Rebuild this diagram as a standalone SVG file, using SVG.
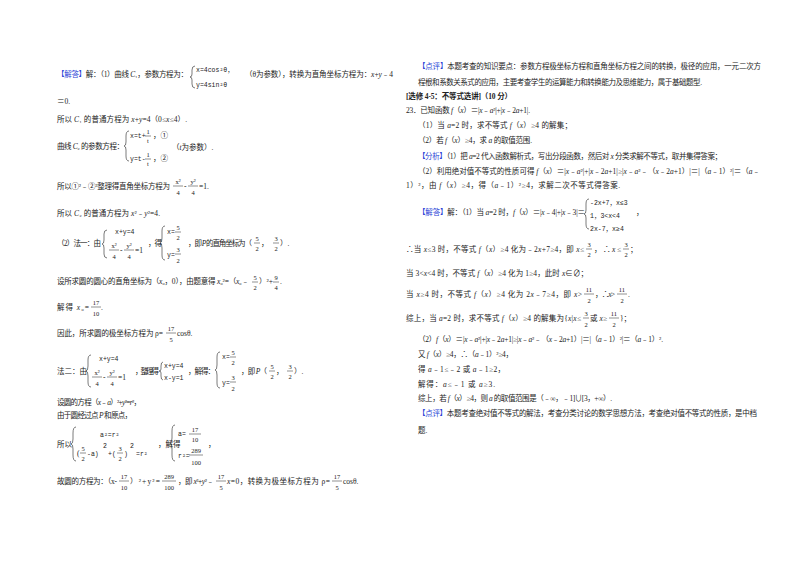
<svg xmlns="http://www.w3.org/2000/svg" width="800" height="565" viewBox="0 0 800 565">
<style>
text{font-family:"Liberation Serif","Noto Sans CJK SC",serif;font-size:7.5px;fill:#222}
.b{fill:#2a3fd6}
.f{text-anchor:middle;font-size:6.5px}
.m{font-family:"Liberation Mono","Noto Sans CJK SC",monospace;font-size:6.5px}
.bd{font-weight:bold}
line{stroke:#222;stroke-width:0.5}
path{fill:none;stroke:#222;stroke-width:0.6}
</style>
<rect width="800" height="565" fill="#fff"/>
<g id="left">
<text x="57" y="77" textLength="131" lengthAdjust="spacing"><tspan class="b">【解答】</tspan>解：（1）曲线 <tspan font-style="italic">C</tspan>₁，参数方程为：</text>
<path d="M195,66 q-3,0 -3,4 v4 q0,3 -2,3 q2,0 2,3 v4 q0,4 3,4"/>
<text class="m" x="196" y="72">x=4cos²θ，</text>
<text class="m" x="196" y="87">y=4sin²θ</text>
<text x="245" y="77" textLength="148" lengthAdjust="spacing">（θ为参数），转换为直角坐标方程为：<tspan font-style="italic">x</tspan>+<tspan font-style="italic">y</tspan>﹣4</text>
<text x="57" y="104">＝0.</text>
<text x="57" y="122" textLength="130" lengthAdjust="spacing">所以 <tspan font-style="italic">C</tspan>₁ 的普通方程为 <tspan font-style="italic">x</tspan>+<tspan font-style="italic">y</tspan>=4（0≤<tspan font-style="italic">x</tspan>≤4）.</text>
<text x="57" y="149" textLength="67" lengthAdjust="spacing">曲线 <tspan font-style="italic">C</tspan>₂ 的参数方程：</text>
<path d="M129,131 q-3,0 -3,5 v6 q0,4 -2,4 q2,0 2,4 v6 q0,5 3,5"/>
<text class="m" x="130" y="138">x=t+</text><text class="f" x="148" y="134">1</text><line x1="145" y1="136" x2="151" y2="136"/><text class="f" x="148" y="143">t</text><text x="153" y="138">，①</text>
<text class="m" x="130" y="161">y=t-</text><text class="f" x="148" y="157">1</text><line x1="145" y1="159" x2="151" y2="159"/><text class="f" x="148" y="166">t</text><text x="153" y="161">，②</text>
<text x="172" y="150">（<tspan font-style="italic">t</tspan>为参数）.</text>
<text x="57" y="189" textLength="113" lengthAdjust="spacing">所以①²﹣②²整理得直角坐标方程为</text>
<text class="f" x="178" y="184">x²</text><line x1="173" y1="186" x2="183" y2="186"/><text class="f" x="178" y="195">4</text>
<text x="184" y="189">-</text>
<text class="f" x="193" y="184">y²</text><line x1="188" y1="186" x2="198" y2="186"/><text class="f" x="193" y="195">4</text>
<text x="199" y="189">=1.</text>
<text x="57" y="216" textLength="103" lengthAdjust="spacing">所以 <tspan font-style="italic">C</tspan>₂ 的普通方程为 <tspan font-style="italic">x</tspan>²﹣<tspan font-style="italic">y</tspan>²=4.</text>
<text x="57" y="246" textLength="44" lengthAdjust="spacing">（2）法一：由</text>
<path d="M107,230 q-3,0 -3,4 v6 q0,4 -2,4 q2,0 2,4 v6 q0,4 3,4"/>
<text class="m" x="115" y="234">x+y=4</text>
<text class="f" x="114" y="248">x²</text><line x1="109" y1="250" x2="119" y2="250"/><text class="f" x="114" y="259">4</text>
<text x="120" y="253">-</text>
<text class="f" x="129" y="248">y²</text><line x1="124" y1="250" x2="134" y2="250"/><text class="f" x="129" y="259">4</text>
<text x="135" y="253">=1</text>
<text x="148" y="246" textLength="14" lengthAdjust="spacing">，得</text>
<path d="M165,226 q-3,0 -3,5 v7 q0,5 -2,5 q2,0 2,5 v7 q0,5 3,5"/>
<text class="m" x="167" y="234">x=</text><text class="f" x="178" y="230">5</text><line x1="175" y1="232" x2="181" y2="232"/><text class="f" x="178" y="240">2</text>
<text class="m" x="167" y="257">y=</text><text class="f" x="178" y="252">3</text><line x1="175" y1="254" x2="181" y2="254"/><text class="f" x="178" y="263">2</text>
<text x="188" y="246" textLength="64" lengthAdjust="spacing">，即 <tspan font-style="italic">P</tspan> 的直角坐标为（</text>
<text class="f" x="257" y="241">5</text><line x1="254" y1="243" x2="260" y2="243"/><text class="f" x="257" y="251">2</text>
<text x="261" y="246">，</text>
<text class="f" x="276" y="241">3</text><line x1="273" y1="243" x2="279" y2="243"/><text class="f" x="276" y="251">2</text>
<text x="280" y="246">）.</text>
<text x="57" y="284" textLength="192" lengthAdjust="spacing">设所求圆的圆心的直角坐标为（<tspan font-style="italic">x</tspan>₀，0），由题意得 <tspan font-style="italic">x</tspan>₀²=（<tspan font-style="italic">x</tspan>₀﹣</text>
<text class="f" x="255" y="280">5</text><line x1="252" y1="282" x2="258" y2="282"/><text class="f" x="255" y="290">2</text>
<text x="259" y="284">）²+</text>
<text class="f" x="276" y="280">9</text><line x1="273" y1="282" x2="279" y2="282"/><text class="f" x="276" y="290">4</text>
<text x="280" y="284">.</text>
<text x="57" y="310" textLength="32" lengthAdjust="spacing">解得 <tspan font-style="italic">x</tspan>₀=</text>
<text class="f" x="96" y="305">17</text><line x1="91" y1="307" x2="101" y2="307"/><text class="f" x="96" y="316">10</text><text x="101" y="310">.</text>
<text x="57" y="336" textLength="106" lengthAdjust="spacing">因此，所求圆的极坐标方程为 ρ=</text>
<text class="f" x="171" y="331">17</text><line x1="166" y1="333" x2="176" y2="333"/><text class="f" x="171" y="342">5</text>
<text x="177" y="336">cosθ.</text>
<text x="57" y="374" textLength="30" lengthAdjust="spacing">法二：由</text>
<path d="M91,355 q-3,0 -3,5 v6 q0,5 -2,5 q2,0 2,5 v6 q0,5 3,5"/>
<text class="m" x="99" y="361">x+y=4</text>
<text class="f" x="97" y="375">x²</text><line x1="92" y1="377" x2="102" y2="377"/><text class="f" x="97" y="386">4</text>
<text x="103" y="380">-</text>
<text class="f" x="112" y="375">y²</text><line x1="107" y1="377" x2="117" y2="377"/><text class="f" x="112" y="386">4</text>
<text x="118" y="380">=1</text>
<text x="135" y="374" textLength="24" lengthAdjust="spacing">，整理得</text>
<path d="M163,362 q-2,0 -2,4 v3 q0,2 -2,2 q2,0 2,2 v3 q0,4 2,4"/>
<text class="m" x="164" y="368">x+y=4</text>
<text class="m" x="164" y="380">x-y=1</text>
<text x="188" y="374" textLength="27" lengthAdjust="spacing">，解得：</text>
<path d="M220,352 q-3,0 -3,5 v8 q0,5 -2,5 q2,0 2,5 v8 q0,5 3,5"/>
<text class="m" x="222" y="359">x=</text><text class="f" x="233" y="355">5</text><line x1="230" y1="357" x2="236" y2="357"/><text class="f" x="233" y="365">2</text>
<text class="m" x="222" y="385">y=</text><text class="f" x="233" y="380">3</text><line x1="230" y1="382" x2="236" y2="382"/><text class="f" x="233" y="391">2</text>
<text x="241" y="374" textLength="26" lengthAdjust="spacing">，即 <tspan font-style="italic">P</tspan>（</text>
<text class="f" x="272" y="369">5</text><line x1="269" y1="371" x2="275" y2="371"/><text class="f" x="272" y="379">2</text>
<text x="276" y="374">，</text>
<text class="f" x="290" y="369">3</text><line x1="287" y1="371" x2="293" y2="371"/><text class="f" x="290" y="379">2</text>
<text x="294" y="374">）.</text>
<text x="57" y="405" textLength="84" lengthAdjust="spacing">设圆的方程（<tspan font-style="italic">x</tspan>﹣<tspan font-style="italic">a</tspan>）²+<tspan font-style="italic">y</tspan>²=<tspan font-style="italic">r</tspan>²，</text>
<text x="57" y="418" textLength="75" lengthAdjust="spacing">由于圆经过点 <tspan font-style="italic">P</tspan> 和原点，</text>
<text x="57" y="447">所以</text>
<path d="M76,427 q-3,0 -3,6 v6 q0,5 -2,5 q2,0 2,5 v6 q0,6 3,6"/>
<text class="m" x="100" y="437">a²=r²</text>
<text x="77" y="456">(</text><text class="f" x="83" y="451">5</text><line x1="80" y1="453" x2="86" y2="453"/><text class="f" x="83" y="461">2</text>
<text class="m" x="87" y="456">-a)</text><text class="m" x="103" y="448">2</text>
<text class="m" x="108" y="456">+(</text><text class="f" x="120" y="451">3</text><line x1="117" y1="453" x2="123" y2="453"/><text class="f" x="120" y="461">2</text>
<text class="m" x="124" y="456">)</text><text class="m" x="130" y="448">2</text><text class="m" x="136" y="456">=r²</text>
<text x="158" y="447">，解得</text>
<path d="M175,425 q-3,0 -3,6 v7 q0,5 -2,5 q2,0 2,5 v7 q0,6 3,6"/>
<text class="m" x="178" y="436">a=</text><text class="f" x="195" y="432">17</text><line x1="189" y1="434" x2="201" y2="434"/><text class="f" x="195" y="442">10</text>
<text class="m" x="178" y="458">r²=</text><text class="f" x="196" y="453">289</text><line x1="189" y1="455" x2="203" y2="455"/><text class="f" x="196" y="465">100</text>
<text x="208" y="447">，</text>
<text x="57" y="484" textLength="60" lengthAdjust="spacing">故圆的方程为：（x-</text>
<text class="f" x="124" y="479">17</text><line x1="119" y1="481" x2="129" y2="481"/><text class="f" x="124" y="490">10</text>
<text x="130" y="484" textLength="30" lengthAdjust="spacing">）²+y²=</text>
<text class="f" x="169" y="479">289</text><line x1="162" y1="481" x2="176" y2="481"/><text class="f" x="169" y="490">100</text>
<text x="178" y="484" textLength="36" lengthAdjust="spacing">，即 <tspan font-style="italic">x</tspan>²+<tspan font-style="italic">y</tspan>²﹣</text>
<text class="f" x="221" y="479">17</text><line x1="216" y1="481" x2="226" y2="481"/><text class="f" x="221" y="490">5</text>
<text x="227" y="484" textLength="103" lengthAdjust="spacing"><tspan font-style="italic">x</tspan>=0，转换为极坐标方程为 ρ=</text>
<text class="f" x="337" y="479">17</text><line x1="332" y1="481" x2="342" y2="481"/><text class="f" x="337" y="490">5</text>
<text x="343" y="484">cosθ.</text>
</g>
<g id="right">
<text x="418" y="69" textLength="343" lengthAdjust="spacing"><tspan class="b">【点评】</tspan>本题考查的知识要点：参数方程极坐标方程和直角坐标方程之间的转换，极径的应用，一元二次方</text>
<text x="418" y="85" textLength="284" lengthAdjust="spacing">程根和系数关系式的应用，主要考查学生的运算能力和转换能力及思维能力，属于基础题型.</text>
<text x="406" y="99" class="bd" textLength="106" lengthAdjust="spacing">[选修 4-5：不等式选讲]（10 分）</text>
<text x="406" y="113" textLength="124" lengthAdjust="spacing">23．已知函数 <tspan font-style="italic">f</tspan>（<tspan font-style="italic">x</tspan>）＝|<tspan font-style="italic">x</tspan>﹣<tspan font-style="italic">a</tspan>²|+|<tspan font-style="italic">x</tspan>﹣2<tspan font-style="italic">a</tspan>+1|.</text>
<text x="418" y="128" textLength="154" lengthAdjust="spacing">（1）当 <tspan font-style="italic">a</tspan>=2 时，求不等式 <tspan font-style="italic">f</tspan>（<tspan font-style="italic">x</tspan>）≥4 的解集；</text>
<text x="418" y="143" textLength="114" lengthAdjust="spacing">（2）若 <tspan font-style="italic">f</tspan>（<tspan font-style="italic">x</tspan>）≥4，求 <tspan font-style="italic">a</tspan> 的取值范围.</text>
<text x="418" y="159" textLength="304" lengthAdjust="spacing"><tspan class="b">【分析】</tspan>（1）把 <tspan font-style="italic">a</tspan>=2 代入函数解析式，写出分段函数，然后对 <tspan font-style="italic">x</tspan> 分类求解不等式，取并集得答案；</text>
<text x="418" y="174" textLength="342" lengthAdjust="spacing">（2）利用绝对值不等式的性质可得 <tspan font-style="italic">f</tspan>（<tspan font-style="italic">x</tspan>）＝|<tspan font-style="italic">x</tspan>﹣<tspan font-style="italic">a</tspan>²|+|<tspan font-style="italic">x</tspan>﹣2<tspan font-style="italic">a</tspan>+1|≥|<tspan font-style="italic">x</tspan>﹣<tspan font-style="italic">a</tspan>²﹣（<tspan font-style="italic">x</tspan>﹣2<tspan font-style="italic">a</tspan>+1）|＝|（<tspan font-style="italic">a</tspan>﹣1）²|＝（<tspan font-style="italic">a</tspan>﹣</text>
<text x="406" y="188" textLength="214" lengthAdjust="spacing">1）²，由 <tspan font-style="italic">f</tspan>（<tspan font-style="italic">x</tspan>）≥4，得（<tspan font-style="italic">a</tspan>﹣1）²≥4，求解二次不等式得答案.</text>
<text x="418" y="215" textLength="167" lengthAdjust="spacing"><tspan class="b">【解答】</tspan>解：（1）当 <tspan font-style="italic">a</tspan>=2 时，<tspan font-style="italic">f</tspan>（<tspan font-style="italic">x</tspan>）＝|<tspan font-style="italic">x</tspan>﹣4|+|<tspan font-style="italic">x</tspan>﹣3|＝</text>
<path d="M589,199 q-3,0 -3,5 v6 q0,4 -2,4 q2,0 2,4 v6 q0,5 3,5"/>
<text class="m" x="590" y="205">-2x+7，x≤3</text>
<text class="m" x="590" y="218">1，3&lt;x&lt;4</text>
<text x="636" y="215">，</text>
<text class="m" x="590" y="231">2x-7，x≥4</text>
<text x="406" y="252" textLength="178" lengthAdjust="spacing">∴当 <tspan font-style="italic">x</tspan>≤3 时，不等式 <tspan font-style="italic">f</tspan>（<tspan font-style="italic">x</tspan>）≥4 化为﹣2<tspan font-style="italic">x</tspan>+7≥4，即 <tspan font-style="italic">x</tspan>≤</text>
<text class="f" x="589" y="247">3</text><line x1="586" y1="249" x2="592" y2="249"/><text class="f" x="589" y="257">2</text>
<text x="594" y="252" textLength="27" lengthAdjust="spacing">，∴<tspan font-style="italic">x</tspan>≤</text>
<text class="f" x="626" y="247">3</text><line x1="623" y1="249" x2="629" y2="249"/><text class="f" x="626" y="257">2</text>
<text x="630" y="252">；</text>
<text x="406" y="276" textLength="182" lengthAdjust="spacing">当 3&lt;<tspan font-style="italic">x</tspan>&lt;4 时，不等式 <tspan font-style="italic">f</tspan>（<tspan font-style="italic">x</tspan>）≥4 化为 1≥4，此时 <tspan font-style="italic">x</tspan>∈∅；</text>
<text x="406" y="297" textLength="176" lengthAdjust="spacing">当 <tspan font-style="italic">x</tspan>≥4 时，不等式 <tspan font-style="italic">f</tspan>（<tspan font-style="italic">x</tspan>）≥4 化为 2<tspan font-style="italic">x</tspan>﹣7≥4，即 <tspan font-style="italic">x</tspan>&gt;</text>
<text class="f" x="589" y="292">11</text><line x1="584" y1="294" x2="594" y2="294"/><text class="f" x="589" y="303">2</text>
<text x="595" y="297" textLength="20" lengthAdjust="spacing">，∴<tspan font-style="italic">x</tspan>&gt;</text>
<text class="f" x="622" y="292">11</text><line x1="617" y1="294" x2="627" y2="294"/><text class="f" x="622" y="303">2</text>
<text x="628" y="297">.</text>
<text x="406" y="321" textLength="175" lengthAdjust="spacing">综上，当 <tspan font-style="italic">a</tspan>=2 时，求不等式 <tspan font-style="italic">f</tspan>（<tspan font-style="italic">x</tspan>）≥4 的解集为{<tspan font-style="italic">x</tspan>|<tspan font-style="italic">x</tspan>≤</text>
<text class="f" x="586" y="316">3</text><line x1="583" y1="318" x2="589" y2="318"/><text class="f" x="586" y="327">2</text>
<text x="590" y="321" textLength="17" lengthAdjust="spacing">或 <tspan font-style="italic">x</tspan>≥</text>
<text class="f" x="614" y="316">11</text><line x1="609" y1="318" x2="619" y2="318"/><text class="f" x="614" y="327">2</text>
<text x="620" y="321">}；</text>
<text x="418" y="342" textLength="245" lengthAdjust="spacing">（2）<tspan font-style="italic">f</tspan>（<tspan font-style="italic">x</tspan>）＝|<tspan font-style="italic">x</tspan>﹣<tspan font-style="italic">a</tspan>²|+|<tspan font-style="italic">x</tspan>﹣2<tspan font-style="italic">a</tspan>+1|≥|<tspan font-style="italic">x</tspan>﹣<tspan font-style="italic">a</tspan>²﹣（<tspan font-style="italic">x</tspan>﹣2<tspan font-style="italic">a</tspan>+1）|＝|（<tspan font-style="italic">a</tspan>﹣1）²|＝（<tspan font-style="italic">a</tspan>﹣1）².</text>
<text x="418" y="357" textLength="95" lengthAdjust="spacing">又 <tspan font-style="italic">f</tspan>（<tspan font-style="italic">x</tspan>）≥4，∴（<tspan font-style="italic">a</tspan>﹣1）²≥4，</text>
<text x="418" y="372" textLength="87" lengthAdjust="spacing">得 <tspan font-style="italic">a</tspan>﹣1≤﹣2 或 <tspan font-style="italic">a</tspan>﹣1≥2，</text>
<text x="418" y="387" textLength="77" lengthAdjust="spacing">解得：<tspan font-style="italic">a</tspan>≤﹣1 或 <tspan font-style="italic">a</tspan>≥3.</text>
<text x="418" y="401" textLength="194" lengthAdjust="spacing">综上，若 <tspan font-style="italic">f</tspan>（<tspan font-style="italic">x</tspan>）≥4，则 <tspan font-style="italic">a</tspan> 的取值范围是（﹣∞，﹣1]∪[3，+∞）.</text>
<text x="418" y="416" textLength="339" lengthAdjust="spacing"><tspan class="b">【点评】</tspan>本题考查绝对值不等式的解法，考查分类讨论的数学思想方法，考查绝对值不等式的性质，是中档</text>
<text x="418" y="433">题.</text>
</g>
</svg>
